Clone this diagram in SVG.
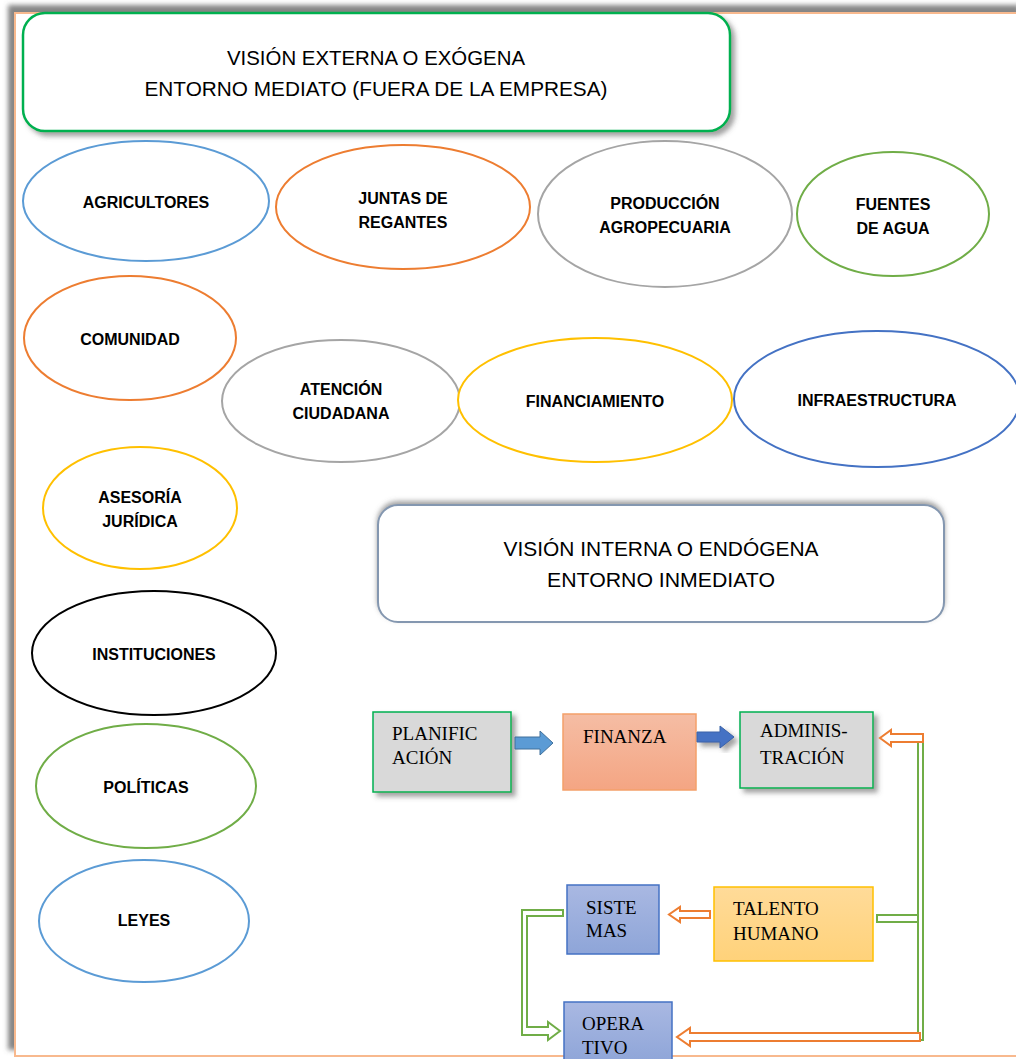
<svg xmlns="http://www.w3.org/2000/svg" width="1016" height="1059" viewBox="0 0 1016 1059">
  <defs>
    <filter id="frameShadow" x="-5%" y="-5%" width="110%" height="110%">
      <feDropShadow dx="-6" dy="-7" stdDeviation="2.5" flood-color="#6f6f6f" flood-opacity="0.85"/>
    </filter>
    <filter id="shadowBR" x="-10%" y="-10%" width="125%" height="130%">
      <feDropShadow dx="4" dy="4" stdDeviation="2.5" flood-color="#555" flood-opacity="0.55"/>
    </filter>
    <filter id="shadowTop" x="-10%" y="-20%" width="120%" height="140%">
      <feDropShadow dx="0" dy="-3" stdDeviation="2.5" flood-color="#666" flood-opacity="0.6"/>
    </filter>
    <linearGradient id="gFinanza" x1="0" y1="0" x2="0" y2="1">
      <stop offset="0" stop-color="#f5bda4"/>
      <stop offset="1" stop-color="#f4a583"/>
    </linearGradient>
    <linearGradient id="gBlue" x1="0" y1="0" x2="0" y2="1">
      <stop offset="0" stop-color="#a9b8e2"/>
      <stop offset="1" stop-color="#8ea5d8"/>
    </linearGradient>
    <linearGradient id="gGold" x1="0" y1="0" x2="0" y2="1">
      <stop offset="0" stop-color="#ffdb99"/>
      <stop offset="1" stop-color="#ffd27a"/>
    </linearGradient>
  </defs>
  <style>
    .ell { fill: #ffffff; stroke-width: 2; }
    .lbl { font-family: "Liberation Sans", "Noto Sans", Arial, sans-serif; font-weight: bold; font-size: 16px; fill: #000; text-anchor: middle; }
    .head { font-family: "Liberation Sans", "Noto Sans", Arial, sans-serif; font-size: 21px; fill: #000; text-anchor: middle; }
    .box { font-family: "Liberation Serif", "Times New Roman", serif; font-size: 19px; fill: #000; }
    .hollowO { fill: #ffffff; stroke: #ed7d31; stroke-width: 2; }
    .hollowG { fill: #ffffff; stroke: #70ad47; stroke-width: 2; }
  </style>

  <rect x="0" y="0" width="1016" height="1059" fill="#ffffff"/>

  <!-- outer page frame -->
  <rect x="15" y="13" width="1010" height="1043" fill="#ffffff" stroke="#f8b98e" stroke-width="2" filter="url(#frameShadow)"/>

  <!-- external view header -->
  <g id="vision-externa">
    <rect x="23" y="13" width="707" height="118" rx="22" fill="#ffffff" stroke="#00b050" stroke-width="2.5" filter="url(#shadowBR)"/>
    <text class="head" x="376" y="65" textLength="298" lengthAdjust="spacingAndGlyphs">VISIÓN EXTERNA O EXÓGENA</text>
    <text class="head" x="376" y="96" textLength="463" lengthAdjust="spacingAndGlyphs">ENTORNO MEDIATO (FUERA DE LA EMPRESA)</text>
  </g>

  <!-- external actors -->
  <g id="agricultores">
    <ellipse class="ell" cx="146" cy="201" rx="123" ry="60" stroke="#5b9bd5"/>
    <text class="lbl" x="146" y="208">AGRICULTORES</text>
  </g>
  <g id="juntas-de-regantes">
    <ellipse class="ell" cx="403" cy="207" rx="127" ry="62" stroke="#ed7d31"/>
    <text class="lbl" x="403" y="204">JUNTAS DE</text>
    <text class="lbl" x="403" y="228">REGANTES</text>
  </g>
  <g id="produccion-agropecuaria">
    <ellipse class="ell" cx="665" cy="214" rx="127" ry="73" stroke="#a5a5a5"/>
    <text class="lbl" x="665" y="209">PRODUCCIÓN</text>
    <text class="lbl" x="665" y="233">AGROPECUARIA</text>
  </g>
  <g id="fuentes-de-agua">
    <ellipse class="ell" cx="893" cy="214" rx="96" ry="62" stroke="#70ad47"/>
    <text class="lbl" x="893" y="210">FUENTES</text>
    <text class="lbl" x="893" y="234">DE AGUA</text>
  </g>
  <g id="comunidad">
    <ellipse class="ell" cx="130" cy="338" rx="106" ry="62" stroke="#ed7d31"/>
    <text class="lbl" x="130" y="345">COMUNIDAD</text>
  </g>
  <g id="atencion-ciudadana">
    <ellipse class="ell" cx="341" cy="401" rx="119" ry="61" stroke="#a5a5a5"/>
    <text class="lbl" x="341" y="395">ATENCIÓN</text>
    <text class="lbl" x="341" y="419">CIUDADANA</text>
  </g>
  <g id="financiamiento">
    <ellipse class="ell" cx="595" cy="400" rx="137" ry="62" stroke="#ffc000"/>
    <text class="lbl" x="595" y="407">FINANCIAMIENTO</text>
  </g>
  <g id="infraestructura">
    <ellipse class="ell" cx="877" cy="399" rx="143" ry="68" stroke="#4472c4"/>
    <text class="lbl" x="877" y="406">INFRAESTRUCTURA</text>
  </g>
  <g id="asesoria-juridica">
    <ellipse class="ell" cx="140" cy="508" rx="97" ry="61" stroke="#ffc000"/>
    <text class="lbl" x="140" y="503">ASESORÍA</text>
    <text class="lbl" x="140" y="527">JURÍDICA</text>
  </g>
  <g id="instituciones">
    <ellipse class="ell" cx="154" cy="653" rx="122" ry="62" stroke="#000000"/>
    <text class="lbl" x="154" y="660">INSTITUCIONES</text>
  </g>
  <g id="politicas">
    <ellipse class="ell" cx="146" cy="786" rx="110" ry="62" stroke="#70ad47"/>
    <text class="lbl" x="146" y="793">POLÍTICAS</text>
  </g>
  <g id="leyes">
    <ellipse class="ell" cx="144" cy="921" rx="105" ry="61" stroke="#5b9bd5"/>
    <text class="lbl" x="144" y="926">LEYES</text>
  </g>

  <!-- internal view header -->
  <g id="vision-interna">
    <rect x="378" y="505" width="566" height="117" rx="20" fill="#ffffff" stroke="#8497b0" stroke-width="2" filter="url(#shadowTop)"/>
    <text class="head" x="661" y="556" textLength="315" lengthAdjust="spacingAndGlyphs">VISIÓN INTERNA O ENDÓGENA</text>
    <text class="head" x="661" y="587" textLength="228" lengthAdjust="spacingAndGlyphs">ENTORNO INMEDIATO</text>
  </g>

  <!-- internal units -->
  <g id="planificacion">
    <rect x="373" y="712" width="138" height="80" fill="#d9d9d9" stroke="#00b050" stroke-width="1.5" filter="url(#shadowBR)"/>
    <text class="box" x="392" y="740">PLANIFIC</text>
    <text class="box" x="392" y="764">ACIÓN</text>
  </g>
  <g id="finanza">
    <rect x="563" y="714" width="133" height="76" fill="url(#gFinanza)" stroke="#f4a06a" stroke-width="1.5"/>
    <text class="box" x="583" y="743">FINANZA</text>
  </g>
  <g id="administracion">
    <rect x="740" y="712" width="133" height="76" fill="#d9d9d9" stroke="#00b050" stroke-width="1.5" filter="url(#shadowBR)"/>
    <text class="box" x="760" y="737">ADMINIS-</text>
    <text class="box" x="760" y="764">TRACIÓN</text>
  </g>
  <g id="sistemas">
    <rect x="567" y="885" width="92" height="69" fill="url(#gBlue)" stroke="#4472c4" stroke-width="1.5"/>
    <text class="box" x="586" y="914">SISTE</text>
    <text class="box" x="586" y="937">MAS</text>
  </g>
  <g id="talento-humano">
    <rect x="714" y="887" width="159" height="74" fill="url(#gGold)" stroke="#ffc000" stroke-width="1.5"/>
    <text class="box" x="733" y="915">TALENTO</text>
    <text class="box" x="733" y="940">HUMANO</text>
  </g>
  <g id="operativo">
    <rect x="564" y="1002" width="108" height="62" fill="url(#gBlue)" stroke="#4472c4" stroke-width="1.5"/>
    <text class="box" x="582" y="1030">OPERA</text>
    <text class="box" x="582" y="1054">TIVO</text>
  </g>

  <!-- connectors -->
  <g id="connectors">
    <!-- planificación to finanza -->
    <path d="M515,737 H540 V731 L553,743 L540,755 V749 H515 Z" fill="#5b9bd5" stroke="#41719c" stroke-width="1"/>
    <!-- finanza to administración -->
    <path d="M697,732 H720 V726 L734,737 L720,748 V742 H697 Z" fill="#4472c4" stroke="#3a62a8" stroke-width="1" filter="url(#shadowBR)"/>
    <!-- green return rail on the right -->
    <rect class="hollowG" x="918" y="742" width="5" height="298"/>
    <!-- talento humano to rail -->
    <rect class="hollowG" x="877" y="915" width="41" height="7"/>
    <!-- rail to administración -->
    <path class="hollowO" d="M923,734 H891 V730 L880,738 L891,746 V742 H923 Z"/>
    <!-- rail to operativo -->
    <path class="hollowO" d="M920,1033 H690 V1028 L677,1037 L690,1046 V1041 H920 Z"/>
    <!-- talento humano to sistemas -->
    <path class="hollowO" d="M710,911 H680 V907 L669,914.5 L680,922 V918 H710 Z"/>
    <!-- sistemas to operativo -->
    <path class="hollowG" d="M563,910 H522 V1035 H548 V1040 L560,1031 L548,1022 V1027 H527 V916 H563 Z"/>
  </g>
</svg>
